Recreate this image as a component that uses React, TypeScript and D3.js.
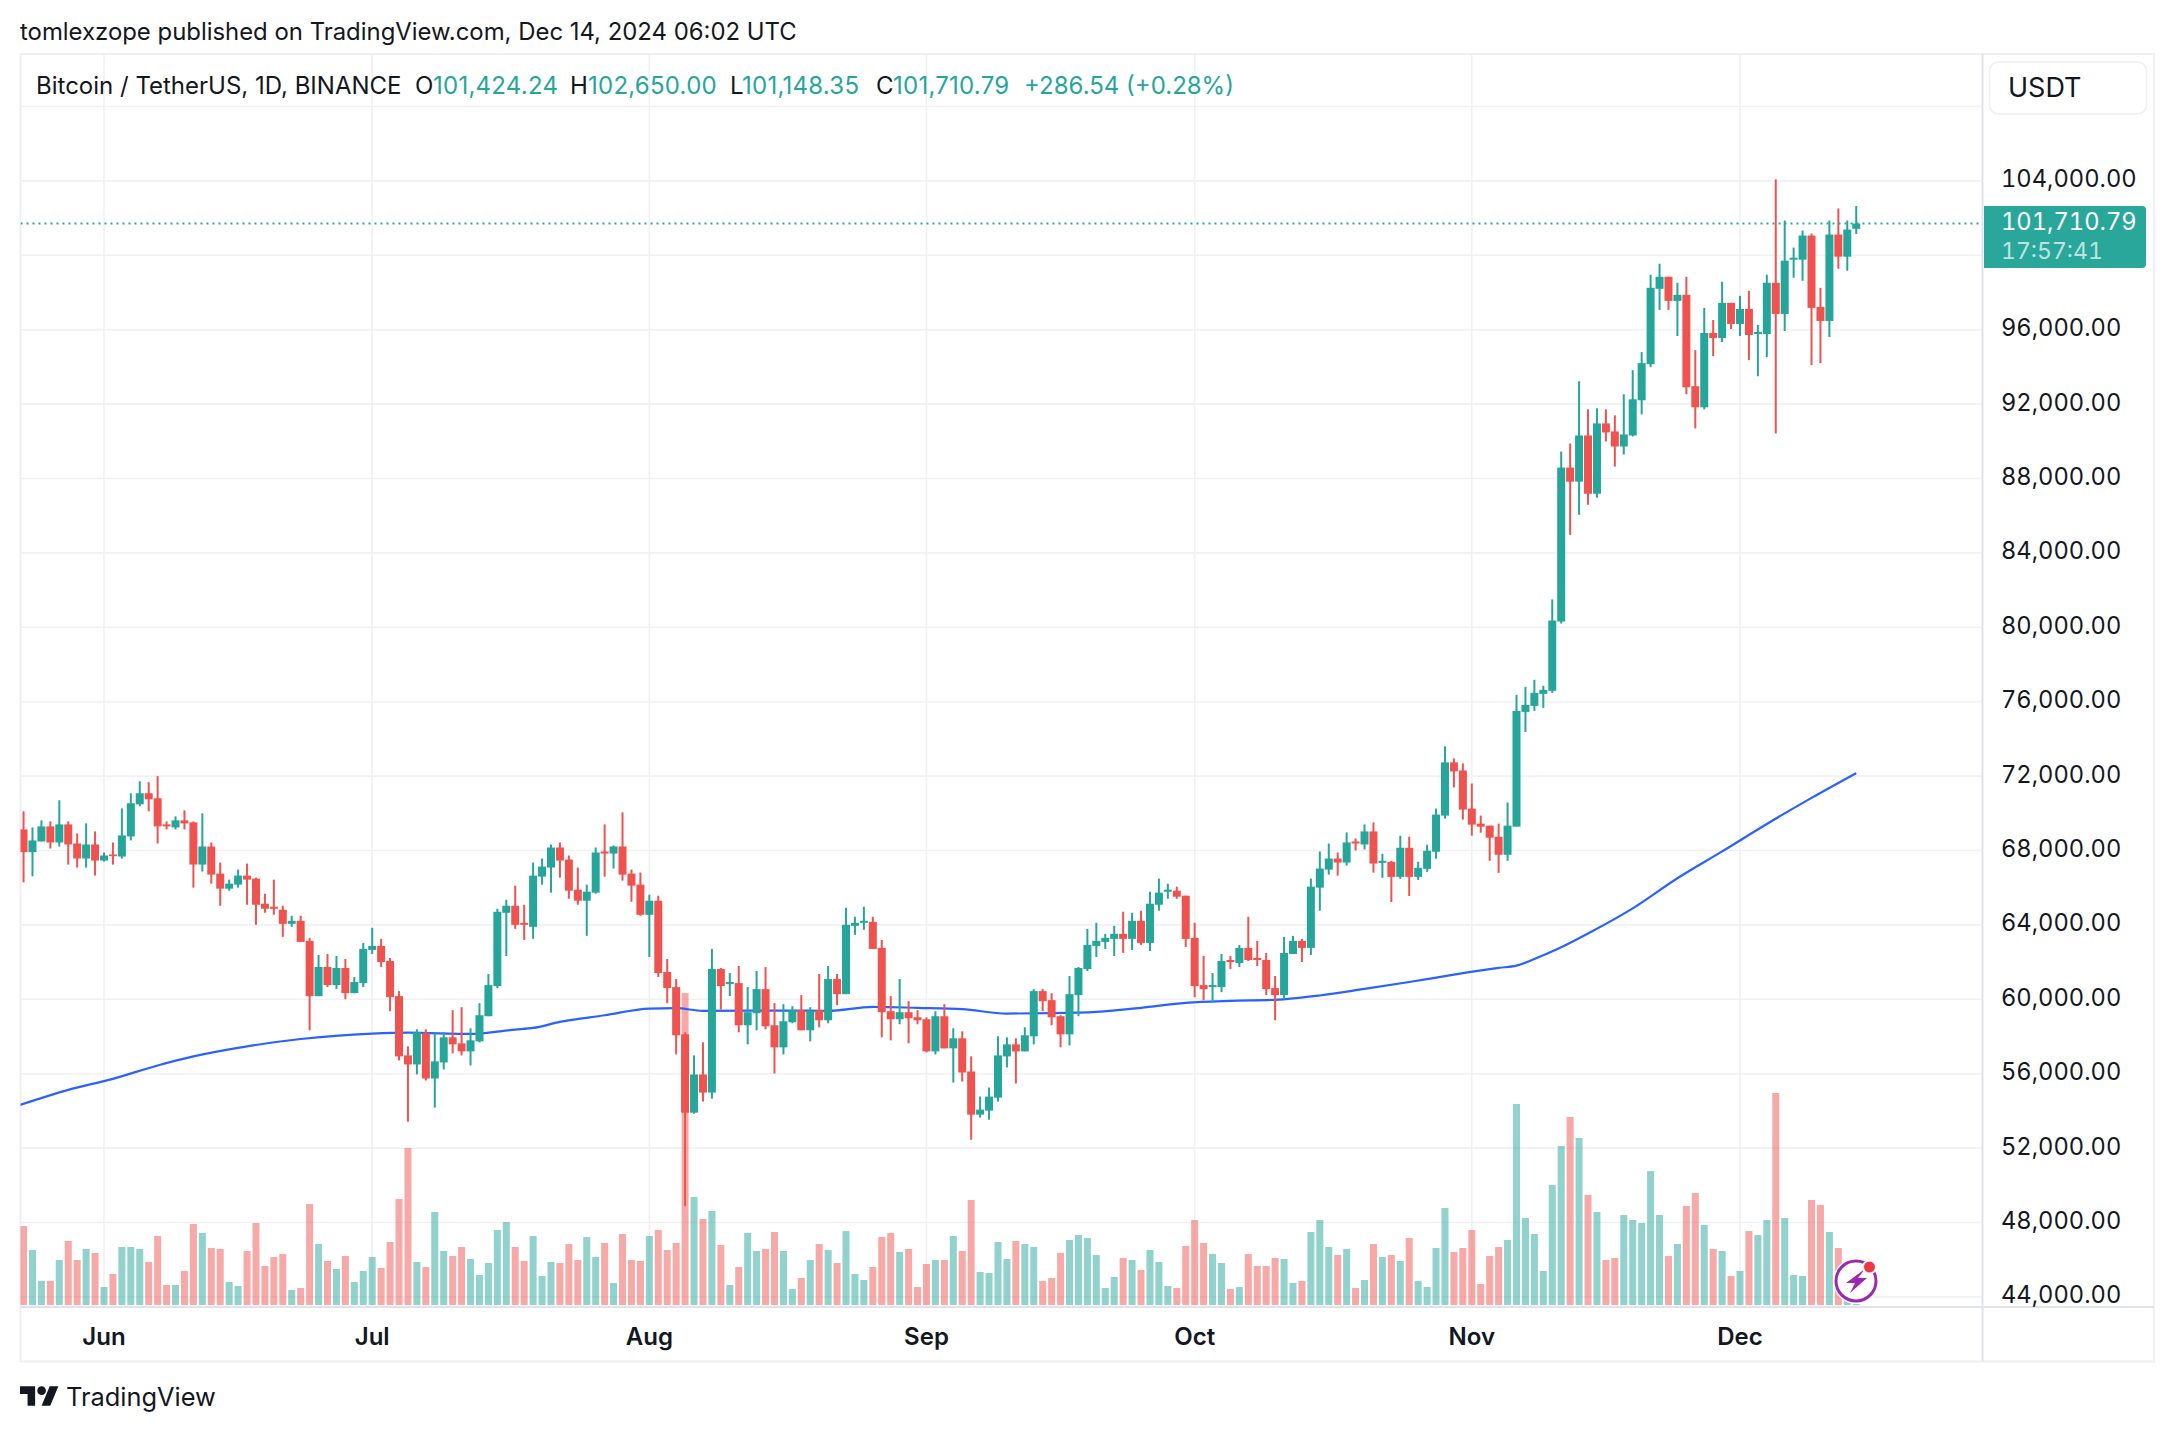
import React from "react";
import * as d3 from "d3";

const firstDay = "2024-05-23";
const opens = [
69134,67910,68486,69296,68432,69404,68378,67568,68324,67460,
67784,67676,68756,70484,71078,70808,69404,69242,69620,69512,
67244,68216,66758,65948,66164,66650,66488,65138,64976,64814,
64058,64220,63140,60170,61736,60764,61682,60332,60872,62654,
62870,62060,60170,56984,56498,58172,55742,56606,57956,57632,
57200,57740,59090,60710,64652,65030,64112,63896,66596,67082,
68162,67514,65894,65300,65732,67946,67838,68216,66758,66164,
64544,65300,61466,60656,58118,53906,55958,54986,61628,60818,
60872,58604,59252,60548,58604,57416,58766,59414,58334,59414,
58874,61088,60278,63950,64112,64166,62762,59360,58928,59306,
59036,58928,57200,59090,57362,57902,56120,53798,54014,54716,
56930,57578,57200,58010,60440,59954,59090,58118,60224,61628,
62870,63086,63248,63518,63248,64220,63032,65084,65786,65840,
65570,63302,60764,60656,60656,62114,61952,62762,62222,62114,
60602,60224,62438,63140,62762,66002,66974,67568,67352,68486,
68324,69026,67338,67392,66582,68148,66582,67014,67932,69876,
72738,72306,70254,69444,69336,68742,67770,69282,75450,75774,
76422,76584,80310,88586,87830,90314,87182,90962,90530,89720,
90314,92204,94148,98198,98846,97550,97874,92960,91826,95822,
95552,97442,96308,97118,95768,95768,98522,96848,99764,99764,
101060,97226,96470,101114,99926,101424.24];
const highs = [
70106,69242,69620,69566,70700,69566,68918,69458,69026,67892,
68432,70268,71078,71726,71672,72000,69566,69836,70160,69566,
69998,68432,67352,66434,66974,67298,66542,65678,66434,65030,
64490,64490,63302,62384,62438,62330,62168,61196,63032,63842,
63248,62222,60440,57470,58388,58388,58172,58226,59414,59576,
58442,59792,61358,64868,65354,66110,65084,67352,67568,68324,
68432,67730,67082,66164,68162,69404,68270,70052,66974,66812,
65624,65570,62168,61088,58226,56984,57686,62708,61682,61412,
61790,60656,61520,61736,59792,59738,59630,60224,59576,61358,
61790,61358,64922,64436,64976,64436,63194,60170,61088,59900,
59414,59036,59360,59738,58442,58280,56930,54770,55256,58010,
57956,57902,58496,60548,60548,60332,59144,61250,61736,63788,
64112,63518,63950,64706,64652,64760,65786,66488,66218,66056,
65570,64112,62330,61412,62438,62330,62924,64436,63140,62492,
61250,63356,63410,63248,66488,67946,68378,67892,68972,68648,
69404,69512,67824,67446,68796,68742,67392,68310,70254,73602,
72954,72684,71604,69876,69336,69444,70578,76368,76800,77178,
76854,81498,89450,89882,93230,91718,91772,91718,91394,92528,
93824,94796,98954,99548,98846,98522,98846,94904,97172,96524,
98576,97442,97820,98090,96254,98954,104084,101870,100412,101330,
101168,98252,101870,102518,101870,102650];
const lows = [
66290,66614,68486,68108,68216,67244,67082,67082,66650,67406,
67244,67568,68540,70376,70106,68378,69134,69134,69134,66002,
66866,66218,65030,65840,66002,65084,64004,64652,64544,63356,
63896,63086,58334,60170,60656,60548,60008,60332,60656,62438,
61736,59360,56714,53420,55958,55634,54176,56228,57092,56984,
56444,57686,59090,60602,62330,63788,63194,63248,66164,65732,
66542,65408,65084,63410,65678,66596,67028,66380,65246,64490,
62276,61196,59792,57038,48880,53852,54500,54662,59450,60170,
58226,57578,58334,58388,56012,57038,58712,58334,57740,58496,
58712,59684,60278,63464,63734,62708,57956,57794,58658,57632,
58658,57146,57038,57362,55526,55580,52448,53636,53528,54500,
56336,55472,57200,57578,59360,58604,57416,57524,59090,61520,
62276,62708,62330,62492,62654,62924,62600,64760,65408,65408,
62816,60116,59954,59846,60386,61628,61736,62060,61790,60224,
58874,60008,62438,62006,62384,64760,66704,66650,67190,68000,
68054,66812,66528,65232,66474,65556,66420,66852,67554,69714,
71388,69660,68796,68958,67446,66798,67446,69282,74370,75504,
75666,76476,80202,84968,86048,86588,86966,89990,88640,89288,
90260,91448,93986,97064,97064,95660,92528,90692,91718,94580,
95336,96038,95660,94364,93500,94526,90422,95930,98792,98630,
94094,94202,95606,99278,99170,101148.35];
const closes = [
67910,68540,69296,68432,69404,68324,67568,68324,67460,67730,
67694,68810,70538,71078,70754,69296,69296,69620,69458,67244,
68216,66704,65948,66218,66650,66434,65084,64868,64868,64058,
64220,63086,60170,61736,60764,61682,60332,60926,62708,62870,
62006,60116,56930,56498,58226,55742,56660,57956,57578,57200,
57794,59144,60764,64706,65030,64004,64004,66650,67136,68162,
67460,65840,65300,65786,67892,67838,68216,66704,66110,64544,
65300,61412,60602,58064,53906,55958,54986,61628,60710,60926,
58604,59306,60548,58550,57416,58820,59414,58334,59360,58874,
61088,60278,64004,64112,64220,62708,59306,58928,59306,58982,
58874,57200,59090,57362,57902,56066,53798,54068,54770,56984,
57578,57200,58064,60440,59900,59036,58118,60278,61682,62924,
63140,63302,63518,63248,64220,63032,65138,65732,65894,65516,
63248,60710,60548,60764,62060,62006,62762,62114,62114,60548,
60224,62492,63140,62762,66056,67028,67568,67352,68432,68378,
69026,67298,67446,66582,68148,66582,67068,67986,69930,72738,
72252,70200,69390,69282,68688,67770,69336,75504,75828,76476,
76638,80364,88586,87830,90314,87182,90962,90476,89720,90368,
92258,94202,98252,98846,97550,97874,92906,91826,95822,95552,
97442,96308,97118,95714,95876,98522,96848,99710,99872,101060,
97172,96470,101114,99926,101384,101710.79];
const volumes = [
237,165,72,72,135,192,135,168,156,54,
93,174,174,168,129,207,60,60,102,243,
216,171,168,69,57,162,246,117,144,153,
45,51,303,183,132,108,147,69,102,144,
111,189,318,471,129,114,279,162,147,174,
138,90,126,225,249,174,132,207,87,129,
126,183,135,204,144,186,66,213,135,132,
207,225,165,186,936,324,258,282,180,60,
114,216,162,168,219,162,48,81,135,183,
165,126,222,93,75,114,204,216,159,168,
54,123,135,135,207,162,315,99,96,189,
138,192,183,174,72,81,156,195,210,201,
150,51,84,141,135,105,165,129,57,51,
177,255,186,153,126,48,54,153,117,117,
141,138,66,72,219,255,174,150,168,51,
75,183,144,150,132,201,72,54,171,291,
159,171,225,63,147,174,195,603,261,213,
102,360,477,564,501,330,279,135,141,270,
255,246,402,270,147,183,297,336,240,168,
162,87,102,222,210,255,636,261,90,87,
315,300,219,171,15,3];

// 200-day moving average, read every few days (day offset from firstDay → price)
const maDays = [-0.4,5,10,15,19,25,31,39,43,50,55,57,60,65,70,73,76,85,90,95,100,105,110,115,120,125,130,135,140,145,150,155,160,165,167,170,172,175,180,185,190,195,200,205];
const maValues = [54320,55130,55724,56444,56930,57470,57866,58154,58208,58136,58370,58460,58784,59144,59504,59522,59378,59396,59378,59594,59540,59468,59234,59252,59324,59540,59810,59918,59972,60206,60560,60930,61326,61686,61812,62370,62802,63540,64890,66510,67950,69426,70830,72162];

const priceTicks = [104000,100000,96000,92000,88000,84000,80000,76000,72000,68000,64000,60000,56000,52000,48000,44000];
const extraGridPrice = 108000;
const monthLabels = ["Jun","Jul","Aug","Sep","Oct","Nov","Dec"];
const monthDates = ["2024-06-01","2024-07-01","2024-08-01","2024-09-01","2024-10-01","2024-11-01","2024-12-01"];
const lastPrice = 101710.79;

const UP = "#26a69a";
const DOWN = "#ef5350";
const INK = "#131722";
const FONT = "Inter, 'Noto Sans', sans-serif";

const plot = { left: 20.5, right: 1982.5, top: 54, bottom: 1307, frameRight: 2154, frameBottom: 1361.5 };

const day0 = new Date(firstDay + "T00:00:00Z");
const dates = opens.map((_, i) => d3.utcDay.offset(day0, i));
const x = d3.scaleUtc()
  .domain([new Date(monthDates[0] + "T00:00:00Z"), new Date(monthDates[6] + "T00:00:00Z")])
  .range([104, 1740]);
const y = d3.scaleLinear().domain([104000, 44000]).range([180.9, 1296.9]);
const v = d3.scaleLinear().domain([0, 3]).range([1305, 1304]);

const maLine = d3.line<number>()
  .x((_, i) => x(new Date(day0.getTime() + maDays[i] * 86400000)))
  .y((d) => y(d))
  .curve(d3.curveMonotoneX);

const legend: [string, number, string, number][] = [
  ["Bitcoin / TetherUS, 1D, BINANCE", 36, INK, 0],
  ["O", 415, INK, 0], ["101,424.24", 433, UP, 0.25],
  ["H", 570, INK, 0], ["102,650.00", 588, UP, 0.25],
  ["L", 730, INK, 0], ["101,148.35", 742, UP, 0.25],
  ["C", 876, INK, 0], ["101,710.79", 893, UP, 0.25],
  ["+286.54 (+0.28%)", 1024, UP, 0],
];

export default function App() {
  const fs = 24;
  const tab = { fontVariantNumeric: "tabular-nums" } as const;
  return (
    <svg width={2174} height={1432} viewBox="0 0 2174 1432"
      style={{ position: "fixed", left: 0, top: 0, display: "block", background: "#fff" }}
      fontFamily={FONT}>
      <defs>
        <clipPath id="plot"><rect x={plot.left} y={plot.top} width={plot.right - plot.left} height={plot.bottom - plot.top} /></clipPath>
      </defs>
      <rect width={2174} height={1432} fill="#fff" />

      <text x={20} y={40} fontSize={23.9} fill={INK}>tomlexzope published on TradingView.com, Dec 14, 2024 06:02 UTC</text>

      {/* grid */}
      <g stroke="#f1f1f4" strokeWidth={1.6}>
        {[extraGridPrice, ...priceTicks].map((p) => (
          <line key={p} x1={plot.left} x2={plot.right} y1={y(p)} y2={y(p)} />
        ))}
        {monthDates.map((m) => {
          const px = x(new Date(m + "T00:00:00Z"));
          return <line key={m} x1={px} x2={px} y1={plot.top} y2={plot.bottom} />;
        })}
      </g>

      {/* frame */}
      <rect x={plot.left} y={plot.top} width={plot.frameRight - plot.left} height={plot.frameBottom - plot.top}
        fill="none" stroke="#f0f0f4" strokeWidth={2} />

      <g clipPath="url(#plot)">
        {/* volume */}
        {volumes.map((val, i) => (
          <rect key={i} x={x(dates[i]) - 3.5} width={7} y={v(val)} height={v(0) - v(val)}
            fill={closes[i] >= opens[i] ? UP : DOWN} fillOpacity={0.5} />
        ))}
        {/* MA */}
        <path d={maLine(maValues) ?? ""} fill="none" stroke="#2962ff" strokeWidth={2.2} />
        {/* candles */}
        {opens.map((o, i) => {
          const c = closes[i];
          const col = c >= o ? UP : DOWN;
          const cx = x(dates[i]);
          const top = y(Math.max(o, c));
          const bot = y(Math.min(o, c));
          return (
            <g key={i} fill={col}>
              <rect x={cx - 1} width={2} y={y(highs[i])} height={y(lows[i]) - y(highs[i])} />
              <rect x={cx - 4} width={8} y={top} height={Math.max(bot - top, 1.5)} />
            </g>
          );
        })}
        {/* last price line */}
        <line x1={plot.left} x2={plot.right} y1={y(lastPrice)} y2={y(lastPrice)}
          stroke={UP} strokeWidth={2} strokeDasharray="2 4" />
      </g>

      {/* axis borders */}
      <line x1={plot.right} x2={plot.right} y1={plot.top} y2={plot.frameBottom} stroke="#e0e3eb" strokeWidth={2} />
      <line x1={plot.left} x2={plot.frameRight} y1={plot.bottom} y2={plot.bottom} stroke="#e0e3eb" strokeWidth={2} />

      {/* legend */}
      <g fontSize={fs} dominantBaseline="central">
        {legend.map(([t, px, col, ls]) => (
          <text key={t + px} x={px} y={85.5} fill={col} letterSpacing={ls}>{t}</text>
        ))}
      </g>

      {/* currency box */}
      <rect x={1989.5} y={62} width={157} height={52} rx={9} fill="#fff" stroke="#eff0f5" strokeWidth={1.5} />
      <text x={2008} y={87.5} fontSize={27} fill={INK} dominantBaseline="central">USDT</text>

      {/* price axis */}
      <g fontSize={23.7} fill={INK} dominantBaseline="central" style={tab}>
        {priceTicks.map((p) => (
          <text key={p} x={2001} y={y(p) - 2}>{d3.format(",.2f")(p)}</text>
        ))}
      </g>

      {/* last price tag */}
      <path d="M1984 206 H2142 a4 4 0 0 1 4 4 V264 a4 4 0 0 1 -4 4 H1984 Z" fill="#2aa79b" />
      <text x={2001} y={221.5} fontSize={23.7} fill="#fff" dominantBaseline="central" style={tab}>{d3.format(",.2f")(lastPrice)}</text>
      <text x={2001} y={250.5} fontSize={23} fill="#fff" fillOpacity={0.7} dominantBaseline="central" style={tab}>17:57:41</text>

      {/* time axis */}
      <g fontSize={fs} fontWeight={600} fill={INK} textAnchor="middle" dominantBaseline="central">
        {monthLabels.map((m, i) => (
          <text key={m} x={x(new Date(monthDates[i] + "T00:00:00Z"))} y={1336}>{m}</text>
        ))}
      </g>

      {/* bolt badge */}
      <g>
        <circle cx={1856} cy={1281} r={23} fill="#fff" />
        <circle cx={1856} cy={1281} r={20} fill="none" stroke="#9c27b0" strokeWidth={3} />
        <path d="M1865 1269 L1846 1283 L1855 1283 L1850 1293 L1867 1278 L1858 1278 Z" fill="#9c27b0" />
        <circle cx={1869.5} cy={1267} r={6.5} fill="#f23645" stroke="#fff" strokeWidth={2} />
      </g>

      {/* logo */}
      <g transform="translate(20 1382) scale(1.08)" fill={INK}>
        <path d="M14 22H7V11H0V4h14v18zM28 22h-8l7.5-18h8L28 22z" />
        <circle cx={20} cy={8} r={4} />
      </g>
      <text x={66} y={1406} fontSize={25.4} fill={INK}>TradingView</text>
    </svg>
  );
}
